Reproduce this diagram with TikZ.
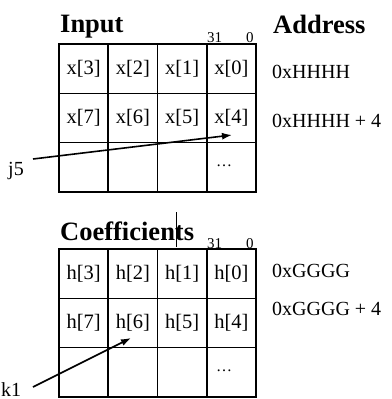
\documentclass[tikz,border=0pt]{standalone}
\usepackage{fontspec}
\setmainfont{Liberation Serif}
\usetikzlibrary{arrows.meta}
\begin{document}
\begin{tikzpicture}[x=1pt,y=-1pt,
  grid/.style={line width=1.6pt},
  cell/.style={inner sep=0pt,font=\fontsize{20.5}{24}\selectfont},
  lbl/.style={inner sep=0pt,anchor=base west,font=\fontsize{20}{24}\selectfont},
  title/.style={inner sep=0pt,anchor=base west,font=\fontsize{26.5}{30}\selectfont\bfseries},
  bits/.style={inner sep=0pt,anchor=base west,font=\fontsize{15}{18}\selectfont},
  ptr/.style={line width=1.6pt,-{Latex[length=10pt,width=7pt]}}]
\useasboundingbox (0,0) rectangle (391,399);
% ---- Input grid
\draw[grid] (59,44) rectangle (256,192);
\foreach \x in {108.25,157.5,206.75} \draw[grid] (\x,44) -- (\x,192);
\foreach \y in {93.3,142.6} \draw[grid] (59,\y) -- (256,\y);
\node[title] (tin) at (60,32) {Input};
\node[title] (tad) at (273,33) {Address};
\node[bits] (b31a) at (207,42) {31};
\node[bits] (b0a) at (246,42) {0};
\node[cell] (x3) at (83.6,68.6) {x[3]};
\node[cell] (x2) at (132.9,68.6) {x[2]};
\node[cell] (x1) at (182.1,68.6) {x[1]};
\node[cell] (x0) at (231.4,68.6) {x[0]};
\node[cell] (x7) at (83.6,118) {x[7]};
\node[cell] (x6) at (132.9,118) {x[6]};
\node[cell] (x5) at (182.1,118) {x[5]};
\node[cell] (x4) at (231.4,118) {x[4]};
\node[cell] (xd) at (224,166) {\fontsize{16}{18}\selectfont …};
\node[lbl] (ah1) at (272,78) {0xHHHH};
\node[lbl] (ah2) at (272,127) {0xHHHH + 4};
\node[lbl] (j5) at (8,175) {j5};
\coordinate (j5s) at (33,159);
\coordinate (j5e) at (232,135);
\draw[ptr] (j5s) -- (j5e);
% ---- Coefficients grid
\draw[grid] (59,249) rectangle (256,397);
\foreach \x in {108.25,157.5,206.75} \draw[grid] (\x,249) -- (\x,397);
\foreach \y in {298.3,347.6} \draw[grid] (59,\y) -- (256,\y);
\node[title] (tco) at (60,240) {Coefficients};
\draw[line width=0.8pt] (176,212) -- (176,247);
\node[bits] (b31b) at (207,248) {31};
\node[bits] (b0b) at (246,248) {0};
\node[cell] (h3) at (83.6,273.6) {h[3]};
\node[cell] (h2) at (132.9,273.6) {h[2]};
\node[cell] (h1) at (182.1,273.6) {h[1]};
\node[cell] (h0) at (231.4,273.6) {h[0]};
\node[cell] (h7) at (83.6,323) {h[7]};
\node[cell] (h6) at (132.9,323) {h[6]};
\node[cell] (h5) at (182.1,323) {h[5]};
\node[cell] (h4) at (231.4,323) {h[4]};
\node[cell] (hd) at (224,371) {\fontsize{16}{18}\selectfont …};
\node[lbl] (ag1) at (272,277) {0xGGGG};
\node[lbl] (ag2) at (272,315) {0xGGGG + 4};
\node[lbl] (k1) at (1,396) {k1};
\coordinate (k1s) at (33,387);
\coordinate (k1e) at (131,338);
\draw[ptr] (k1s) -- (k1e);
\end{tikzpicture}
\end{document}
